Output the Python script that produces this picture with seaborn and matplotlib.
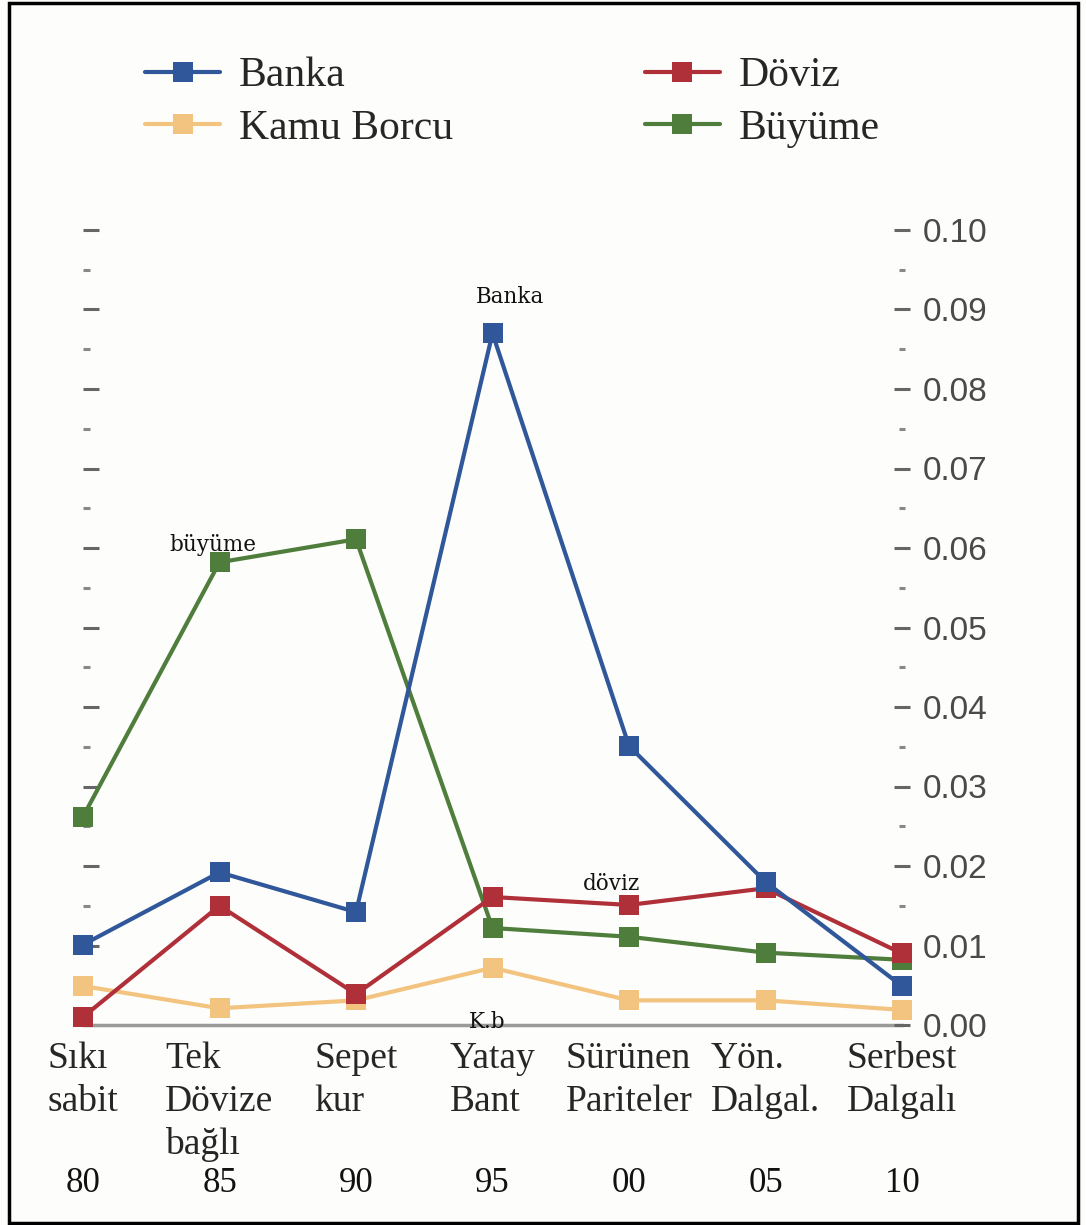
import matplotlib
matplotlib.use("Agg")
import matplotlib.pyplot as plt
import matplotlib.transforms as mtransforms
from matplotlib.patches import Rectangle
from matplotlib.ticker import MultipleLocator, FormatStrFormatter
import pandas as pd
import seaborn as sns

# Exchange-rate regimes and their periods
categories = ["Sıkı\nsabit", "Tek\nDövize\nbağlı", "Sepet\nkur", "Yatay\nBant",
              "Sürünen\nPariteler", "Yön.\nDalgal.", "Serbest\nDalgalı"]
years = ["80", "85", "90", "95", "00", "05", "10"]

# Series values per regime
banka = [0.0101, 0.0192, 0.0142, 0.0870, 0.0351, 0.0180, 0.0049]
doviz = [0.0010, 0.0150, 0.0039, 0.0161, 0.0151, 0.0172, 0.0090]
kamu_borcu = [0.0049, 0.0021, 0.0031, 0.0072, 0.0031, 0.0031, 0.0019]
buyume = [0.0262, 0.0582, 0.0611, 0.0122, 0.0111, 0.0091, 0.0082]

series_names = ["Banka", "Döviz", "Kamu Borcu", "Büyüme"]
colors = {"Banka": "#30579a", "Döviz": "#b0303a", "Kamu Borcu": "#f3c47f", "Büyüme": "#4f7d3b"}

rows = []
for name, vals in zip(series_names, [banka, doviz, kamu_borcu, buyume]):
    for i, v in enumerate(vals):
        rows.append({"pos": i, "value": v, "series": name})
df = pd.DataFrame(rows)

sns.set_style("white")
plt.rcParams["font.family"] = ["Liberation Serif", "DejaVu Serif"]

fig = plt.figure(figsize=(10.86, 12.25), dpi=100)
fig.patch.set_facecolor("#fdfdfb")
W, H = 1086, 1225
ax = fig.add_axes([83 / W, 200 / H, (902 - 83) / W, 795 / H])
ax.set_facecolor("#fdfdfb")

draw_order = ["Kamu Borcu", "Büyüme", "Döviz", "Banka"]
sns.lineplot(data=df, x="pos", y="value", hue="series", style="series",
             hue_order=draw_order, style_order=draw_order, palette=colors,
             markers={n: "s" for n in series_names}, dashes=False,
             linewidth=3, markersize=14, markeredgewidth=0, ax=ax, clip_on=False)

handles, labels = ax.get_legend_handles_labels()
hmap = dict(zip(labels, handles))
ax.get_legend().remove()
leg_order = ["Banka", "Kamu Borcu", "Döviz", "Büyüme"]
fig.legend([hmap[n] for n in leg_order], leg_order, ncol=2, loc="upper left",
           bbox_to_anchor=(145 / W, 1 - 57 / H), frameon=False,
           prop={"family": "Liberation Serif", "size": 30},
           handlelength=1.8, handletextpad=0.45, columnspacing=4.6,
           labelspacing=0.33, borderpad=0, borderaxespad=0)

ax.set_xlim(0, 6)
ax.set_ylim(0, 0.10)
ax.set_xlabel("")
ax.set_ylabel("")

for s in ["top", "left", "right"]:
    ax.spines[s].set_visible(False)
ax.spines["bottom"].set_color("#9a9a9a")
ax.spines["bottom"].set_linewidth(2.5)
ax.spines["bottom"].set_zorder(0.5)

# x axis: regime names
ax.set_xticks(range(len(categories)))
ax.set_xticklabels(categories, fontsize=27, linespacing=1.3, ha="center",
                   multialignment="left", family="Liberation Serif")
ax.tick_params(axis="x", direction="in", length=7, width=2, color="#8a8a8a", pad=12)

# period row below the regime names
trans = mtransforms.blended_transform_factory(ax.transData, ax.transAxes)
for i, yr in enumerate(years):
    ax.text(i, -0.199, yr, transform=trans, ha="center", va="center",
            fontsize=25, family="Liberation Serif", color="#111111")

# right axis with labels
ax.yaxis.tick_right()
ax.yaxis.set_major_locator(MultipleLocator(0.01))
ax.yaxis.set_minor_locator(MultipleLocator(0.005))
ax.yaxis.set_major_formatter(FormatStrFormatter("%.2f"))
ax.tick_params(axis="y", which="major", direction="inout", length=11.5, width=2.2,
               color="#666666", pad=9, labelsize=24, labelcolor="#4a4a4a",
               left=False, right=True, labelleft=False, labelright=True)
ax.tick_params(axis="y", which="minor", direction="inout", length=5, width=2.2,
               color="#888888", left=False, right=True)
for t in ax.get_yticklabels():
    t.set_family(["Liberation Sans", "DejaVu Sans"])

# left axis: tick marks only
lax = ax.secondary_yaxis("left")
lax.spines["left"].set_visible(False)
lax.yaxis.set_major_locator(MultipleLocator(0.01))
lax.yaxis.set_minor_locator(MultipleLocator(0.005))
lax.tick_params(axis="y", which="major", direction="in", length=11.5, width=2.2,
                color="#666666", labelleft=False)
lax.tick_params(axis="y", which="minor", direction="in", length=5, width=2.2,
                color="#888888")
lax.set_yticklabels([])

# point annotations
ann = dict(textcoords="offset pixels", ha="center", va="center",
           fontsize=15.5, family="DejaVu Serif", color="#111111")
ax.annotate("Banka", xy=(3, banka[3]), xytext=(18, 36), **ann)
ax.annotate("büyüme", xy=(1, buyume[1]), xytext=(-7, 17), **ann)
ax.annotate("döviz", xy=(4, doviz[4]), xytext=(-17, 21), **ann)
ax.annotate("K.b", xy=(3, kamu_borcu[3]), xytext=(-5, -54), **ann)

# outer frame
fig.patches.append(Rectangle((8.5 / W, 2.5 / H), (1078 - 8.5) / W, (1222 - 2.5) / H,
                             transform=fig.transFigure, fill=False,
                             edgecolor="black", linewidth=2.5, zorder=10))

fig.savefig("out.png", dpi=100, facecolor=fig.get_facecolor())
